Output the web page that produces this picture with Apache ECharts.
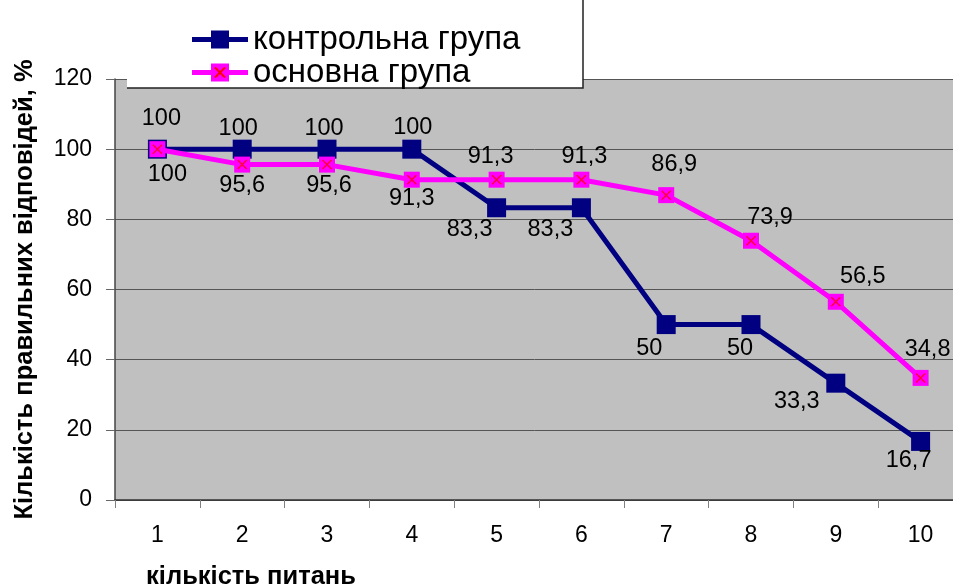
<!DOCTYPE html>
<html>
<head>
<meta charset="utf-8">
<script src="https://cdn.jsdelivr.net/npm/echarts@6/dist/echarts.min.js"></script>
<style>
  html, body { margin: 0; padding: 0; background: #ffffff; }
  #chart { width: 953px; height: 584px; }
</style>
</head>
<body>
<div id="chart"></div>
<script>
// Question numbers along the x axis
const categories = ['1', '2', '3', '4', '5', '6', '7', '8', '9', '10'];
// Share of correct answers, %
const controlGroup = [100, 100, 100, 100, 83.3, 83.3, 50, 50, 33.3, 16.7];
const mainGroup = [100, 95.6, 95.6, 91.3, 91.3, 91.3, 86.9, 73.9, 56.5, 34.8];
const yTicks = { min: 0, max: 120, interval: 20 };
const seriesNames = ['контрольна група', 'основна група'];

// Hand-placed label offsets (px from the marker centre)
const controlLabelOffsets = [[4, -31], [-4, -21], [-3, -21], [1, -22], [-27, 22], [-31, 22], [-17, 24], [-11, 24], [-39, 18], [-12, 19]];
const mainLabelOffsets = [[10, 25], [0, 21], [2, 21], [0, 19], [-6, -23], [3, -23], [8, -31], [19, -23], [27, -25], [7, -28]];

const NAVY = '#000080';
const MAGENTA = '#ff00ff';
const CROSS_RED = '#ff0000';
const FONT = '"Liberation Sans", Arial, sans-serif';

const fmt = v => String(v).replace('.', ',');

function withLabels(values, offsets) {
  return values.map((v, i) => ({
    value: v,
    label: { offset: offsets[i] }
  }));
}

function svgIcon(body) {
  const svg = '<svg xmlns="http://www.w3.org/2000/svg" width="56" height="20" viewBox="0 0 56 20">' + body + '</svg>';
  return 'image://data:image/svg+xml;charset=utf-8,' + encodeURIComponent(svg);
}
const controlIcon = svgIcon(
  '<line x1="0" y1="10" x2="56" y2="10" stroke="' + NAVY + '" stroke-width="5"/>' +
  '<rect x="19" y="1" width="18" height="18" fill="' + NAVY + '"/>'
);
const mainIcon = svgIcon(
  '<line x1="0" y1="10" x2="56" y2="10" stroke="' + MAGENTA + '" stroke-width="5"/>' +
  '<rect x="19" y="1" width="18" height="18" fill="' + MAGENTA + '"/>' +
  '<path d="M23 5 L33 15 M33 5 L23 15" stroke="' + CROSS_RED + '" stroke-width="2"/>'
);

// Filled X shape for the cross marker
const crossPath = 'path://M0,1 L1,0 L5,4 L9,0 L10,1 L6,5 L10,9 L9,10 L5,6 L1,10 L0,9 L4,5 Z';

const labelStyle = {
  show: true,
  position: 'inside',
  color: '#000000',
  fontFamily: FONT,
  fontSize: 23.5,
  formatter: p => fmt(p.value)
};

const chart = echarts.init(document.getElementById('chart'), null, { renderer: 'canvas' });

chart.setOption({
  animation: false,
  backgroundColor: '#ffffff',
  grid: {
    show: true,
    left: 115,
    top: 79,
    bottom: 84,
    right: -10,
    backgroundColor: '#c0c0c0',
    borderWidth: 0,
    containLabel: false,
    outerBoundsMode: 'none'
  },
  graphic: [
    {
      type: 'rect',
      z: 3,
      shape: { x: 127, y: -2, width: 456, height: 90 },
      style: { fill: '#ffffff' }
    },
    {
      type: 'polyline',
      z: 3,
      shape: { points: [[583, 0], [583, 88], [127, 88]] },
      style: { stroke: '#222222', lineWidth: 1.5, fill: null }
    }
  ],
  legend: {
    z: 6,
    orient: 'vertical',
    left: 192,
    top: 23,
    padding: 0,
    itemGap: 0,
    itemWidth: 56,
    itemHeight: 20,
    selectedMode: false,
    textStyle: { fontFamily: FONT, fontSize: 33, color: '#000000', lineHeight: 30, padding: [0, 0, 0, 0] },
    data: [
      { name: seriesNames[0], icon: controlIcon },
      { name: seriesNames[1], icon: mainIcon }
    ]
  },
  xAxis: {
    type: 'category',
    data: categories,
    boundaryGap: true,
    name: 'кількість питань',
    nameLocation: 'middle',
    nameGap: 64,
    nameTextStyle: {
      fontFamily: FONT, fontSize: 25.5, fontWeight: 'bold', color: '#000000',
      padding: [0, 576, 0, 0]
    },
    axisLine: { show: true, lineStyle: { color: '#333333', width: 1.5 } },
    axisTick: { show: true, alignWithLabel: false, length: 8, lineStyle: { color: '#808080', width: 1 } },
    axisLabel: { fontFamily: FONT, fontSize: 23, color: '#000000', margin: 24 },
    splitLine: { show: false }
  },
  yAxis: {
    type: 'value',
    min: yTicks.min,
    max: yTicks.max,
    interval: yTicks.interval,
    name: 'Кількість правильних відповідей, %',
    nameLocation: 'middle',
    nameGap: 77,
    nameTextStyle: { fontFamily: FONT, fontSize: 25.5, fontWeight: 'bold', color: '#000000' },
    axisLine: { show: true, lineStyle: { color: '#444444', width: 1.5 } },
    axisTick: { show: true, inside: false, length: 9, lineStyle: { color: '#666666', width: 1 } },
    axisLabel: { fontFamily: FONT, fontSize: 23, color: '#000000', margin: 23 },
    splitLine: { show: true, lineStyle: { color: '#555555', width: 1 } }
  },
  series: [
    {
      name: seriesNames[0],
      type: 'line',
      z: 3,
      data: withLabels(controlGroup, controlLabelOffsets),
      symbol: 'rect',
      symbolSize: 19,
      lineStyle: { color: NAVY, width: 5 },
      itemStyle: { color: NAVY },
      label: labelStyle
    },
    {
      name: seriesNames[1],
      type: 'line',
      z: 4,
      data: withLabels(mainGroup, mainLabelOffsets),
      symbol: 'rect',
      symbolSize: 16,
      lineStyle: { color: MAGENTA, width: 5 },
      itemStyle: { color: MAGENTA },
      label: labelStyle
    },
    {
      name: 'cross',
      type: 'scatter',
      z: 5,
      silent: true,
      data: mainGroup,
      symbol: crossPath,
      symbolSize: 10,
      itemStyle: { color: CROSS_RED }
    }
  ]
});
</script>
</body>
</html>
